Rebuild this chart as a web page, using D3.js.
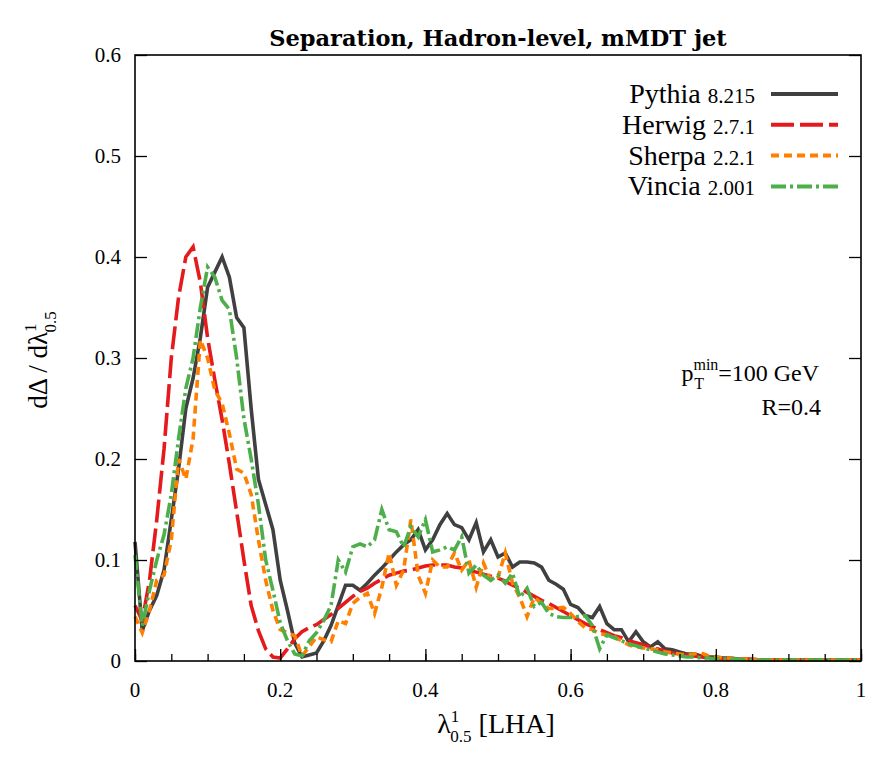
<!DOCTYPE html>
<html>
<head>
<meta charset="utf-8">
<script src="https://cdn.jsdelivr.net/npm/d3@7"></script>
<style>
  body { margin: 0; background: #fff; }
  svg text { font-family: "Liberation Serif", serif; fill: #000; }
</style>
</head>
<body>
<div id="chartArea"></div>
<script>
// lambda bins, 0 .. 1 in steps of 0.01
const lambdaBins = d3.range(0, 101).map(i => i / 100);

const pythiaValues = [
  0.118, 0.030, 0.050, 0.065, 0.090, 0.140, 0.190, 0.250, 0.280, 0.320,
  0.370, 0.385, 0.400, 0.380, 0.340, 0.330, 0.250, 0.180, 0.155, 0.130,
  0.080, 0.050, 0.018, 0.004, 0.006, 0.008, 0.020, 0.035, 0.055, 0.075,
  0.075, 0.070, 0.077, 0.085, 0.092, 0.100, 0.108, 0.115, 0.120, 0.130,
  0.110, 0.120, 0.135, 0.146, 0.135, 0.132, 0.120, 0.137, 0.108, 0.120,
  0.103, 0.107, 0.093, 0.098, 0.098, 0.097, 0.093, 0.080, 0.076, 0.071,
  0.056, 0.053, 0.045, 0.043, 0.054, 0.037, 0.031, 0.031, 0.019, 0.029,
  0.019, 0.014, 0.019, 0.012, 0.011, 0.009, 0.007, 0.007, 0.005, 0.004,
  0.004, 0.003, 0.003, 0.002, 0.002, 0.001, 0.001, 0.001, 0.001, 0.001,
  0.001, 0.001, 0.001, 0.001, 0.001, 0.001, 0.001, 0.001, 0.001, 0.001,
  0.001
];

const herwigValues = [
  0.055, 0.040, 0.080, 0.140, 0.210, 0.300, 0.360, 0.400, 0.410, 0.375,
  0.320, 0.278, 0.239, 0.195, 0.148, 0.100, 0.055, 0.030, 0.012, 0.004,
  0.003, 0.012, 0.022, 0.029, 0.033, 0.036, 0.041, 0.046, 0.052, 0.058,
  0.064, 0.069, 0.072, 0.077, 0.081, 0.085, 0.087, 0.089, 0.090, 0.092,
  0.094, 0.095, 0.095, 0.095, 0.093, 0.092, 0.090, 0.088, 0.086, 0.084,
  0.082, 0.079, 0.075, 0.072, 0.068, 0.064, 0.060, 0.057, 0.053, 0.049,
  0.045, 0.041, 0.037, 0.034, 0.031, 0.028, 0.025, 0.023, 0.020, 0.018,
  0.016, 0.014, 0.012, 0.010, 0.008, 0.007, 0.006, 0.005, 0.004, 0.003,
  0.003, 0.002, 0.002, 0.002, 0.002, 0.002, 0.001, 0.001, 0.001, 0.001,
  0.001, 0.001, 0.001, 0.001, 0.001, 0.001, 0.001, 0.001, 0.001, 0.001,
  0.001
];

const sherpaValues = [
  0.044, 0.028, 0.050, 0.080, 0.085, 0.120, 0.200, 0.180, 0.220, 0.318,
  0.300, 0.268, 0.255, 0.225, 0.190, 0.186, 0.165, 0.120, 0.080, 0.050,
  0.031, 0.028, 0.025, 0.005, 0.014, 0.024, 0.021, 0.019, 0.040, 0.037,
  0.057, 0.063, 0.067, 0.047, 0.073, 0.107, 0.075, 0.090, 0.140, 0.085,
  0.067, 0.100, 0.093, 0.093, 0.107, 0.090, 0.100, 0.073, 0.097, 0.080,
  0.083, 0.107, 0.077, 0.063, 0.044, 0.063, 0.057, 0.052, 0.052, 0.053,
  0.047, 0.039, 0.033, 0.031, 0.027, 0.026, 0.024, 0.020, 0.016, 0.014,
  0.013, 0.012, 0.011, 0.009, 0.008, 0.007, 0.006, 0.007, 0.008, 0.005,
  0.004, 0.003, 0.003, 0.002, 0.002, 0.002, 0.001, 0.001, 0.001, 0.001,
  0.001, 0.001, 0.001, 0.001, 0.001, 0.001, 0.001, 0.001, 0.001, 0.001,
  0.001
];

const vinciaValues = [
  0.105, 0.035, 0.070, 0.100, 0.125, 0.165, 0.220, 0.270, 0.300, 0.350,
  0.390, 0.380, 0.357, 0.348, 0.300, 0.240, 0.200, 0.155, 0.100, 0.070,
  0.038, 0.020, 0.007, 0.005, 0.020, 0.028, 0.040, 0.055, 0.100, 0.088,
  0.113, 0.116, 0.113, 0.120, 0.150, 0.130, 0.128, 0.113, 0.133, 0.123,
  0.140, 0.108, 0.110, 0.113, 0.110, 0.123, 0.087, 0.095, 0.085, 0.080,
  0.085, 0.077, 0.087, 0.063, 0.072, 0.054, 0.058, 0.047, 0.044, 0.043,
  0.043, 0.044, 0.045, 0.035, 0.012, 0.026, 0.023, 0.020, 0.017, 0.015,
  0.013, 0.011, 0.009, 0.007, 0.006, 0.005, 0.004, 0.004, 0.003, 0.003,
  0.002, 0.002, 0.002, 0.002, 0.001, 0.001, 0.001, 0.001, 0.001, 0.001,
  0.001, 0.001, 0.001, 0.001, 0.001, 0.001, 0.001, 0.001, 0.001, 0.001,
  0.001
];

const generators = ["Pythia", "Herwig", "Sherpa", "Vincia"];
const versions = ["8.215", "2.7.1", "2.2.1", "2.001"];
const seriesValues = [pythiaValues, herwigValues, sherpaValues, vinciaValues];

const xTickValues = [0, 0.2, 0.4, 0.6, 0.8, 1];
const xMinorTicks = d3.range(0, 21).map(i => i * 0.05);
const yTickValues = [0, 0.1, 0.2, 0.3, 0.4, 0.5, 0.6];

const colors = ["#404040", "#e41a1c", "#ff7f00", "#4daf4a"];
const dashes = [null, "23,6", "8,5", "15,4,3,4"];

// writes base text followed by a stacked superscript / subscript
function scripted(text, base, sup, sub, size, subShift) {
    text.append("tspan").text(base);
    const s1 = text.append("tspan").attr("dy", -11).style("font-size", size + "px").text(sup);
    text.append("tspan").attr("dx", -subShift).attr("dy", 20).style("font-size", size + "px").text(sub);
    return s1;
}

function drawChart() {
    const margin = { top: 55, right: 25, bottom: 106, left: 135 },
        width = 886 - margin.left - margin.right,
        height = 767 - margin.top - margin.bottom;

    const root = d3.select("#chartArea").append("svg")
        .attr("width", 886)
        .attr("height", 767);

    const svg = root.append("g")
        .attr("transform", `translate(${margin.left},${margin.top})`);

    const x = d3.scaleLinear().domain([0, 1]).range([0, width]);
    const y = d3.scaleLinear().domain([0, 0.6]).range([height, 0]);

    // title
    root.append("text")
        .attr("x", margin.left + width / 2)
        .attr("y", 46)
        .attr("text-anchor", "middle")
        .style("font-family", "'DejaVu Serif', serif")
        .style("font-weight", "bold")
        .style("font-size", "22.5px")
        .text("Separation, Hadron-level, mMDT jet");

    // curves
    const line = d3.line()
        .x((d, i) => x(lambdaBins[i]))
        .y(d => y(d));

    seriesValues.forEach((vals, k) => {
        svg.append("path")
            .datum(vals)
            .attr("d", line)
            .attr("fill", "none")
            .attr("stroke", colors[k])
            .attr("stroke-width", 3.6)
            .attr("stroke-linejoin", "miter")
            .attr("stroke-dasharray", dashes[k]);
    });

    // axes (ticks drawn inward)
    const xAxisMinor = d3.axisTop(x).tickValues(xMinorTicks).tickSize(7).tickFormat("");
    svg.append("g").attr("transform", `translate(0,${height})`).call(xAxisMinor)
        .call(g => g.select(".domain").remove());
    const xAxis = d3.axisTop(x).tickValues(xTickValues).tickSize(12).tickFormat("");
    svg.append("g").attr("transform", `translate(0,${height})`).call(xAxis)
        .call(g => g.select(".domain").remove());

    svg.append("g")
        .call(d3.axisRight(y).tickValues(yTickValues).tickSize(12).tickFormat(""))
        .call(g => g.select(".domain").remove());
    svg.append("g").attr("transform", `translate(${width},0)`)
        .call(d3.axisLeft(y).tickValues(yTickValues).tickSize(12).tickFormat(""))
        .call(g => g.select(".domain").remove());

    svg.selectAll(".tick line").attr("stroke", "#000").attr("stroke-width", 1.3);

    // tick labels
    svg.append("g").selectAll("text")
        .data(xTickValues)
        .enter().append("text")
        .attr("x", d => x(d))
        .attr("y", height + 36)
        .attr("text-anchor", "middle")
        .style("font-size", "21px")
        .text(d => d3.format("")(d));

    svg.append("g").selectAll("text")
        .data(yTickValues)
        .enter().append("text")
        .attr("x", -14)
        .attr("y", d => y(d) + 7)
        .attr("text-anchor", "end")
        .style("font-size", "21px")
        .text(d => d === 0 ? "0" : d3.format(".1f")(d));

    // frame
    svg.append("rect")
        .attr("width", width)
        .attr("height", height)
        .attr("fill", "none")
        .attr("stroke", "#000")
        .attr("stroke-width", 1.6);

    // x label
    const xl = root.append("text")
        .attr("x", margin.left + width / 2 - 2)
        .attr("y", 733)
        .attr("text-anchor", "middle")
        .style("font-size", "28px");
    scripted(xl, "λ", "1", "0.5", 17, 9);
    xl.append("tspan").attr("dy", -9).text(" [LHA]");

    // y label
    const yl = root.append("text")
        .attr("transform", "translate(47,360) rotate(-90)")
        .attr("text-anchor", "middle")
        .style("font-size", "27px");
    scripted(yl, "dΔ / dλ", "1", "0.5", 17, 9);

    // legend
    const legend = svg.append("g");
    generators.forEach((name, k) => {
        const ly = 39 + k * 30.8;
        const t = legend.append("text")
            .attr("x", 620)
            .attr("y", ly + 9)
            .attr("text-anchor", "end")
            .style("font-size", "28px");
        t.append("tspan").text(name + " ");
        t.append("tspan").style("font-size", "21px").text(versions[k]);
        legend.append("line")
            .attr("x1", 636).attr("x2", 703)
            .attr("y1", ly).attr("y2", ly)
            .attr("stroke", colors[k])
            .attr("stroke-width", 4)
            .attr("stroke-dasharray", dashes[k]);
    });

    // annotations
    const pt = svg.append("text")
        .attr("x", 684)
        .attr("y", 326)
        .attr("text-anchor", "end")
        .style("font-size", "24px");
    pt.append("tspan").text("p");
    pt.append("tspan").attr("dy", -11).style("font-size", "16px").text("min");
    pt.append("tspan").attr("dx", -24).attr("dy", 19).style("font-size", "16px").text("T");
    pt.append("tspan").attr("dx", 14).attr("dy", -8).text("=100 GeV");

    svg.append("text")
        .attr("x", 686)
        .attr("y", 360)
        .attr("text-anchor", "end")
        .style("font-size", "24px")
        .text("R=0.4");
}

drawChart();
</script>
</body>
</html>
